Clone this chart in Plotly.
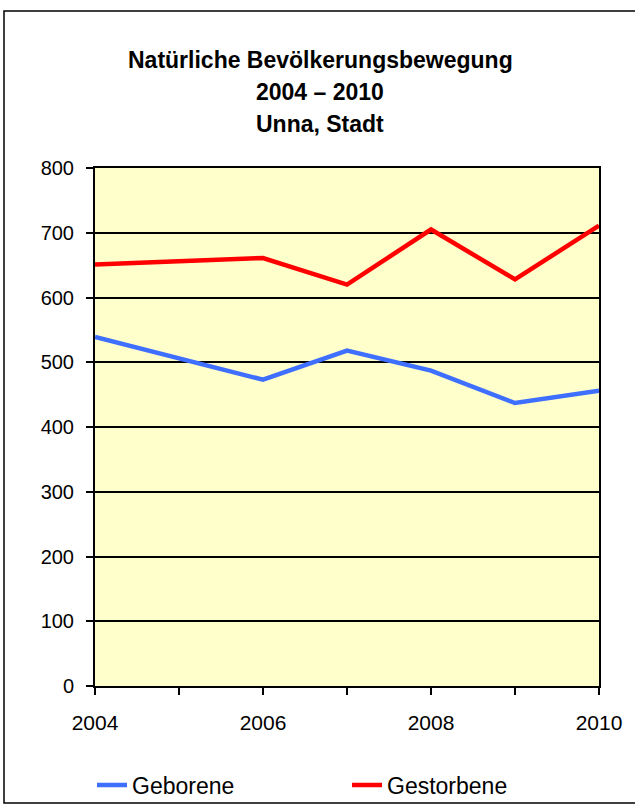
import plotly.graph_objects as go

years = [2004, 2006, 2007, 2008, 2009, 2010]
geborene = [539, 473, 518, 487, 437, 456]
gestorbene = [651, 661, 620, 705, 628, 711]
tick_years = [2004, 2005, 2006, 2007, 2008, 2009, 2010]
tick_labels = ["2004", "", "2006", "", "2008", "", "2010"]
title_lines = ["Natürliche Bevölkerungsbewegung", "2004 – 2010", "Unna, Stadt"]

W, H = 635, 812
L, R, T, B = 95, 36, 168, 126
pw, ph = W - L - R, H - T - B

fig = go.Figure()
fig.add_trace(go.Scatter(x=years, y=geborene, mode="lines", name="Geborene",
                         line=dict(color="#3F6FFF", width=4.5)))
fig.add_trace(go.Scatter(x=years, y=gestorbene, mode="lines", name="Gestorbene",
                         line=dict(color="#FF0000", width=4.5)))

font = "Liberation Sans, Arial, sans-serif"
def px_x(p):
    return (p - L) / pw
def px_y(p):
    return (H - B - p) / ph

annotations = []
for txt, yp in zip(title_lines, [60, 92, 124]):
    annotations.append(dict(text="<b>%s</b>" % txt, x=px_x(320), y=px_y(yp),
                            xref="paper", yref="paper", showarrow=False,
                            xanchor="center", yanchor="middle",
                            font=dict(family=font, size=23, color="black")))

fig.update_layout(
    width=W, height=H,
    margin=dict(l=L, r=R, t=T, b=B, autoexpand=False),
    paper_bgcolor="white",
    plot_bgcolor="#FFFFCC",
    annotations=annotations,
    showlegend=True,
    legend=dict(orientation="h", x=px_x(92), y=px_y(785), xanchor="left", yanchor="middle",
                entrywidth=210, entrywidthmode="pixels", bgcolor="rgba(0,0,0,0)",
                font=dict(family=font, size=23, color="black")),
    shapes=[dict(type="rect", xref="paper", yref="paper",
                 x0=px_x(4), x1=px_x(640), y0=px_y(803), y1=px_y(11),
                 line=dict(color="black", width=1.5), fillcolor="rgba(0,0,0,0)", layer="below")],
    xaxis=dict(range=[2004, 2010], tickmode="array", tickvals=tick_years, ticktext=tick_labels,
               ticks="outside", ticklen=7, tickwidth=1.5, tickcolor="black",
               showgrid=False, zeroline=False, showline=True, linecolor="black", linewidth=2,
               mirror=True, ticklabelstandoff=10,
               tickfont=dict(family=font, size=21, color="black")),
    yaxis=dict(range=[0, 800], dtick=100, ticks="outside", ticklen=7, tickwidth=1.5,
               tickcolor="black", showgrid=True, gridcolor="black", gridwidth=1.5,
               zeroline=False, showline=True, linecolor="black", linewidth=2, mirror=True,
               ticklabelstandoff=8,
               tickfont=dict(family=font, size=20, color="black")),
)

fig.write_html("out.html", config={"displayModeBar": False},
               post_script="document.body.style.margin='0';")
